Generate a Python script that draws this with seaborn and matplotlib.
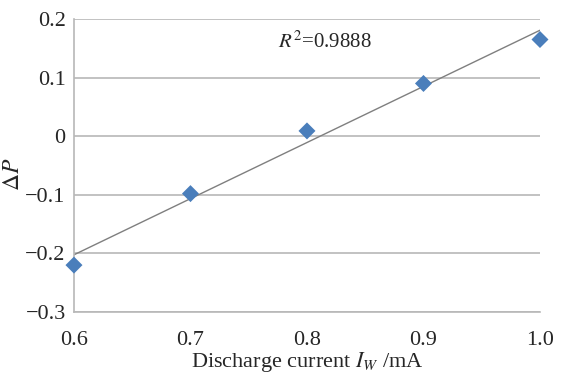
import matplotlib
matplotlib.use('Agg')
import matplotlib.pyplot as plt
import seaborn as sns
import pandas as pd

# 放电电流 vs ΔP
current = [0.6, 0.7, 0.8, 0.9, 1.0]
delta_p = [-0.22, -0.098, 0.009, 0.09, 0.165]
x_ticks = [0.6, 0.7, 0.8, 0.9, 1.0]
x_tick_labels = ['0.6', '0.7', '0.8', '0.9', '1.0']
y_ticks = [-0.3, -0.2, -0.1, 0, 0.1, 0.2]
y_tick_labels = ['\u22120.3', '\u22120.2', '\u22120.1', '0', '0.1', '0.2']

df = pd.DataFrame({'current': current, 'dp': delta_p})

sns.set_style('white')
plt.rcParams['font.family'] = ['Liberation Serif', 'DejaVu Serif']
plt.rcParams['mathtext.fontset'] = 'stix'

fig = plt.figure(figsize=(5.69, 3.80), dpi=100)
ax = fig.add_axes([0.130, 0.179, 0.819, 0.771])

# 추세선
sns.regplot(x='current', y='dp', data=df, ci=None, scatter=False, truncate=True,
            line_kws={'color': '#7f7f7f', 'lw': 1.0}, ax=ax)
sns.scatterplot(x='current', y='dp', data=df, marker='D', s=75, color='#4a7ebb',
                edgecolor='none', ax=ax, zorder=3, clip_on=False)

ax.set_xlim(0.6, 1.0)
ax.set_ylim(-0.3, 0.2)
ax.set_xticks(x_ticks)
ax.set_xticklabels(x_tick_labels)
ax.set_yticks(y_ticks)
ax.set_yticklabels(y_tick_labels)
ax.tick_params(labelsize=16, length=0)
ax.tick_params(axis='x', pad=14)
ax.tick_params(axis='y', pad=6)
ax.yaxis.grid(True, color='#b8b8b8', lw=1.2)
ax.xaxis.grid(False)
for s in ['top', 'right']:
    ax.spines[s].set_visible(False)
for s in ['left', 'bottom']:
    ax.spines[s].set_color('#b8b8b8')
    ax.spines[s].set_linewidth(1.2)

ax.set_xlabel('Discharge current $I_W$ /mA', fontsize=16, labelpad=0)
ax.set_ylabel('$\\Delta P$', fontsize=17)
ax.yaxis.set_label_coords(-0.108, 0.47)
ax.text(0.775, 0.16, '$R^2$=0.9888', fontsize=15, va='center')

fig.savefig('out.png', dpi=100)
